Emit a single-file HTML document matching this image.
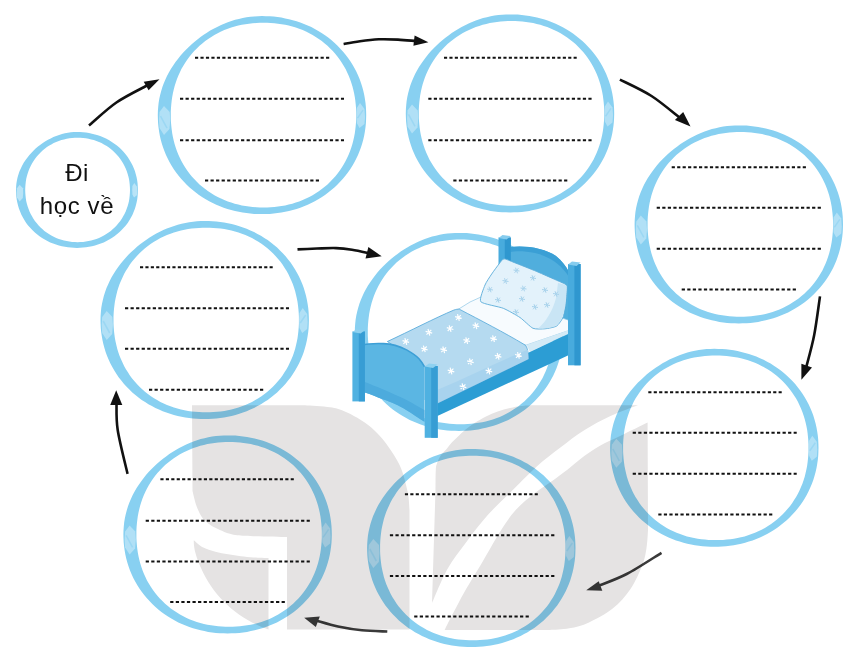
<!DOCTYPE html>
<html><head><meta charset="utf-8"><title>Di hoc ve</title>
<style>html,body{margin:0;padding:0;background:#fff}body{width:867px;height:659px;overflow:hidden;position:relative;font-family:"Liberation Sans",sans-serif}</style>
</head><body>
<svg width="867" height="659" viewBox="0 0 867 659" style="position:absolute;left:0;top:0;isolation:isolate"><rect width="867" height="659" fill="#fff"/>
<defs><g id="ring"><path id="ringb" d="M104.2,0 L104.1,4.1 L103.9,8.2 L103.5,12.2 L102.9,16.3 L102.2,20.3 L101.3,24.3 L100.2,28.3 L99,32.2 L97.6,36 L96,39.8 L94.3,43.5 L92.4,47.1 L90.4,50.6 L88.2,54.1 L85.9,57.4 L83.4,60.6 L80.9,63.7 L78.1,66.7 L75.3,69.6 L72.4,72.4 L69.3,75 L66.2,77.5 L63,79.9 L59.6,82.1 L56.3,84.2 L52.8,86.1 L49.3,88 L45.7,89.6 L42,91.2 L38.3,92.6 L34.6,93.8 L30.8,94.9 L27,95.9 L23.2,96.7 L19.4,97.5 L15.5,98 L11.7,98.5 L7.8,98.8 L3.9,98.9 L0,99 L-3.9,98.9 L-7.8,98.8 L-11.7,98.5 L-15.5,98 L-19.4,97.5 L-23.2,96.7 L-27,95.9 L-30.8,94.9 L-34.6,93.8 L-38.3,92.6 L-42,91.2 L-45.7,89.6 L-49.3,88 L-52.8,86.1 L-56.3,84.2 L-59.6,82.1 L-63,79.9 L-66.2,77.5 L-69.3,75 L-72.4,72.4 L-75.3,69.6 L-78.1,66.7 L-80.9,63.7 L-83.4,60.6 L-85.9,57.4 L-88.2,54.1 L-90.4,50.6 L-92.4,47.1 L-94.3,43.5 L-96,39.8 L-97.6,36 L-99,32.2 L-100.2,28.3 L-101.3,24.3 L-102.2,20.3 L-102.9,16.3 L-103.5,12.2 L-103.9,8.2 L-104.1,4.1 L-104.2,0 L-104.1,-4.1 L-103.8,-8.2 L-103.4,-12.2 L-102.7,-16.3 L-101.8,-20.3 L-100.8,-24.2 L-99.6,-28.1 L-98.2,-31.9 L-96.6,-35.6 L-94.9,-39.3 L-93,-42.9 L-91,-46.3 L-88.8,-49.7 L-86.5,-53 L-84.1,-56.2 L-81.6,-59.3 L-79,-62.3 L-76.3,-65.2 L-73.5,-67.9 L-70.6,-70.6 L-67.7,-73.2 L-64.6,-75.7 L-61.5,-78 L-58.3,-80.3 L-55.1,-82.4 L-51.8,-84.5 L-48.4,-86.4 L-44.9,-88.2 L-41.4,-89.9 L-37.9,-91.4 L-34.2,-92.8 L-30.6,-94.1 L-26.9,-95.3 L-23.1,-96.2 L-19.3,-97.1 L-15.5,-97.8 L-11.6,-98.3 L-7.8,-98.7 L-3.9,-98.9 L-0,-99 L3.9,-98.9 L7.8,-98.8 L11.7,-98.5 L15.5,-98 L19.4,-97.5 L23.2,-96.7 L27,-95.9 L30.8,-94.9 L34.6,-93.8 L38.3,-92.6 L42,-91.2 L45.7,-89.6 L49.3,-88 L52.8,-86.1 L56.3,-84.2 L59.6,-82.1 L63,-79.9 L66.2,-77.5 L69.3,-75 L72.4,-72.4 L75.3,-69.6 L78.1,-66.7 L80.9,-63.7 L83.4,-60.6 L85.9,-57.4 L88.2,-54.1 L90.4,-50.6 L92.4,-47.1 L94.3,-43.5 L96,-39.8 L97.6,-36 L99,-32.2 L100.2,-28.3 L101.3,-24.3 L102.2,-20.3 L102.9,-16.3 L103.5,-12.2 L103.9,-8.2 L104.1,-4.1Z M94.2,-3.6 L94,-7.3 L93.7,-10.9 L93.3,-14.5 L92.8,-18.2 L92.1,-21.8 L91.3,-25.3 L90.4,-28.9 L89.3,-32.4 L88.1,-35.9 L86.7,-39.3 L85.2,-42.6 L83.6,-46 L81.8,-49.2 L79.8,-52.3 L77.8,-55.4 L75.6,-58.4 L73.2,-61.3 L70.8,-64 L68.2,-66.7 L65.5,-69.3 L62.7,-71.7 L59.8,-74 L56.8,-76.2 L53.7,-78.2 L50.6,-80.1 L47.3,-81.9 L44,-83.5 L40.7,-85 L37.2,-86.3 L33.8,-87.5 L30.3,-88.6 L26.7,-89.5 L23.2,-90.3 L19.6,-90.9 L16,-91.4 L12.4,-91.8 L8.7,-92.1 L5.1,-92.3 L1.5,-92.3 L-2.1,-92.3 L-5.7,-92.1 L-9.4,-91.8 L-13,-91.4 L-16.6,-90.9 L-20.2,-90.3 L-23.7,-89.5 L-27.3,-88.6 L-30.8,-87.5 L-34.2,-86.3 L-37.7,-85 L-41,-83.5 L-44.3,-81.9 L-47.6,-80.1 L-50.7,-78.2 L-53.8,-76.2 L-56.8,-74 L-59.7,-71.7 L-62.5,-69.3 L-65.2,-66.7 L-67.8,-64 L-70.2,-61.3 L-72.6,-58.4 L-74.8,-55.4 L-76.8,-52.3 L-78.8,-49.2 L-80.6,-46 L-82.2,-42.6 L-83.7,-39.3 L-85.1,-35.9 L-86.3,-32.4 L-87.4,-28.9 L-88.3,-25.3 L-89.1,-21.8 L-89.8,-18.2 L-90.3,-14.5 L-90.7,-10.9 L-91,-7.3 L-91.2,-3.6 L-91.2,0 L-91.2,3.6 L-91,7.3 L-90.7,10.9 L-90.3,14.5 L-89.8,18.2 L-89.1,21.8 L-88.3,25.3 L-87.4,28.9 L-86.3,32.4 L-85.1,35.9 L-83.7,39.3 L-82.2,42.6 L-80.6,46 L-78.8,49.2 L-76.8,52.3 L-74.8,55.4 L-72.6,58.4 L-70.2,61.3 L-67.8,64 L-65.2,66.7 L-62.5,69.3 L-59.7,71.7 L-56.8,74 L-53.8,76.2 L-50.7,78.2 L-47.6,80.1 L-44.3,81.9 L-41,83.5 L-37.7,85 L-34.2,86.3 L-30.8,87.5 L-27.3,88.6 L-23.7,89.5 L-20.2,90.3 L-16.6,90.9 L-13,91.4 L-9.4,91.8 L-5.7,92.1 L-2.1,92.3 L1.5,92.3 L5.1,92.3 L8.7,92.1 L12.4,91.8 L16,91.4 L19.6,90.9 L23.2,90.3 L26.7,89.5 L30.3,88.6 L33.8,87.5 L37.2,86.3 L40.7,85 L44,83.5 L47.3,81.9 L50.6,80.1 L53.7,78.2 L56.8,76.2 L59.8,74 L62.7,71.7 L65.5,69.3 L68.2,66.7 L70.8,64 L73.2,61.3 L75.6,58.4 L77.8,55.4 L79.8,52.3 L81.8,49.2 L83.6,46 L85.2,42.6 L86.7,39.3 L88.1,35.9 L89.3,32.4 L90.4,28.9 L91.3,25.3 L92.1,21.8 L92.8,18.2 L93.3,14.5 L93.7,10.9 L94,7.3 L94.2,3.6 L94.2,0Z" fill="#88d0f1"/><polygon points="-98,-9 -102.5,-3 -103,5 -102.5,13 -98,20 -92.5,14 -91.8,5 -92.3,-3" fill="#bfe5f7" opacity="0.75"/><polygon points="98,-12 102.5,-6 103,2 102.5,9 97.5,13 94.8,8 94.4,0 94.8,-7" fill="#bfe5f7" opacity="0.75"/><path d="M-101.5,1 L-95,13" stroke="#88d0f1" stroke-width="1.6" opacity="0.5"/><path d="M101,-5 L95.5,3" stroke="#88d0f1" stroke-width="1.6" opacity="0.5"/></g></defs>
<use href="#ringb" transform="translate(459,331.9)"/>
<use href="#ring" transform="translate(262,115.1)"/>
<use href="#ring" transform="translate(510,113.4)"/>
<use href="#ring" transform="translate(738.8,224.4)"/>
<use href="#ring" transform="translate(714.3,447.8)"/>
<use href="#ring" transform="translate(471.3,548)"/>
<use href="#ring" transform="translate(227.6,534.4)"/>
<use href="#ring" transform="translate(204.7,320)"/>
<path d="M137.9,189.9 L137.8,193.1 L137.6,196.3 L137.2,199.5 L136.6,202.6 L135.8,205.7 L134.9,208.8 L133.7,211.8 L132.5,214.7 L131,217.5 L129.4,220.2 L127.7,222.9 L125.8,225.4 L123.7,227.8 L121.6,230.1 L119.3,232.3 L116.9,234.3 L114.4,236.2 L111.8,238 L109.2,239.6 L106.5,241.1 L103.7,242.4 L100.8,243.6 L97.9,244.6 L95,245.5 L92,246.2 L89,246.8 L86,247.3 L83,247.6 L80,247.8 L77,247.9 L73.9,247.8 L70.9,247.6 L67.9,247.3 L64.9,246.8 L61.9,246.2 L58.9,245.5 L56,244.6 L53.1,243.6 L50.2,242.4 L47.4,241.1 L44.7,239.6 L42.1,238 L39.5,236.2 L37,234.3 L34.6,232.3 L32.3,230.1 L30.2,227.8 L28.1,225.4 L26.2,222.9 L24.5,220.2 L22.9,217.5 L21.4,214.7 L20.2,211.8 L19,208.8 L18.1,205.7 L17.3,202.6 L16.7,199.5 L16.3,196.3 L16.1,193.1 L16,190 L16.1,186.8 L16.4,183.6 L16.9,180.4 L17.6,177.3 L18.5,174.3 L19.5,171.3 L20.8,168.4 L22.2,165.6 L23.7,162.8 L25.4,160.2 L27.3,157.7 L29.2,155.3 L31.3,152.9 L33.4,150.7 L35.6,148.6 L38,146.6 L40.4,144.8 L42.8,143 L45.4,141.3 L48,139.8 L50.7,138.4 L53.4,137.1 L56.2,135.9 L59.1,134.9 L62,134 L64.9,133.3 L67.9,132.7 L70.9,132.3 L73.9,132.1 L76.9,132 L80,132.1 L83,132.3 L86,132.6 L89,133.1 L92,133.7 L95,134.4 L97.9,135.3 L100.8,136.3 L103.7,137.5 L106.5,138.8 L109.2,140.3 L111.8,141.9 L114.4,143.7 L116.9,145.6 L119.3,147.6 L121.6,149.8 L123.7,152.1 L125.8,154.5 L127.7,157 L129.4,159.7 L131,162.4 L132.5,165.2 L133.7,168.1 L134.9,171.1 L135.8,174.2 L136.6,177.3 L137.2,180.4 L137.6,183.6 L137.8,186.8Z M129.9,187.2 L129.7,184.5 L129.4,181.7 L129,179 L128.4,176.4 L127.6,173.7 L126.7,171.1 L125.7,168.5 L124.5,166 L123.2,163.6 L121.8,161.2 L120.3,158.9 L118.6,156.8 L116.8,154.7 L114.9,152.7 L112.9,150.8 L110.8,149 L108.6,147.3 L106.3,145.8 L103.9,144.4 L101.5,143.1 L99,142 L96.4,141 L93.8,140.1 L91.2,139.4 L88.5,138.8 L85.8,138.3 L83.1,138 L80.3,137.8 L77.6,137.7 L74.9,137.8 L72.1,138 L69.4,138.3 L66.7,138.8 L64,139.4 L61.4,140.1 L58.8,141 L56.2,142 L53.7,143.1 L51.3,144.4 L48.9,145.8 L46.6,147.3 L44.4,149 L42.3,150.8 L40.3,152.7 L38.4,154.7 L36.6,156.8 L34.9,158.9 L33.4,161.2 L32,163.6 L30.7,166 L29.5,168.5 L28.5,171.1 L27.6,173.7 L26.8,176.4 L26.2,179 L25.8,181.7 L25.5,184.5 L25.3,187.2 L25.2,190 L25.3,192.7 L25.5,195.4 L25.8,198.2 L26.2,200.9 L26.8,203.5 L27.6,206.2 L28.5,208.8 L29.5,211.4 L30.7,213.9 L32,216.3 L33.4,218.7 L34.9,221 L36.6,223.1 L38.4,225.2 L40.3,227.2 L42.3,229.1 L44.4,230.9 L46.6,232.6 L48.9,234.1 L51.3,235.5 L53.7,236.8 L56.2,237.9 L58.8,238.9 L61.4,239.8 L64,240.5 L66.7,241.1 L69.4,241.6 L72.1,241.9 L74.9,242.1 L77.6,242.2 L80.3,242.1 L83.1,241.9 L85.8,241.6 L88.5,241.1 L91.2,240.5 L93.8,239.8 L96.4,238.9 L99,237.9 L101.5,236.8 L103.9,235.5 L106.3,234.1 L108.6,232.6 L110.8,230.9 L112.9,229.1 L114.9,227.2 L116.8,225.2 L118.6,223.1 L120.3,221 L121.8,218.7 L123.2,216.3 L124.5,213.9 L125.7,211.4 L126.7,208.8 L127.6,206.2 L128.4,203.5 L129,200.9 L129.4,198.2 L129.7,195.4 L129.9,192.7 L130,189.9Z" fill="#88d0f1"/><polygon points="19.6,184.7 17,188.2 16.7,192.9 17,197.6 19.6,201.6 22.8,198.1 23.2,192.9 23,188.2" fill="#bfe5f7" opacity="0.9"/><polygon points="134.3,182.9 136.9,186.4 137.2,191.1 136.9,195.2 134,197.6 132.4,194.6 132.2,189.9 132.4,185.9" fill="#bfe5f7" opacity="0.9"/>
<g stroke="#111" stroke-width="2" fill="none"><path d="M195,57.8 H329.3" stroke-dasharray="3.18 2.28"/><path d="M180,98.8 H344" stroke-dasharray="3.23 2.32"/><path d="M180,140.2 H344" stroke-dasharray="3.23 2.32"/><path d="M205,180.5 H319" stroke-dasharray="3.22 2.32"/><path d="M444,57.8 H576.7" stroke-dasharray="3.14 2.26"/><path d="M428.3,98.8 H591.7" stroke-dasharray="3.21 2.31"/><path d="M428.3,140.2 H591.7" stroke-dasharray="3.21 2.31"/><path d="M453.3,180.5 H567.3" stroke-dasharray="3.22 2.32"/><path d="M671.7,167.2 H806" stroke-dasharray="3.18 2.28"/><path d="M656.7,207.8 H821" stroke-dasharray="3.23 2.32"/><path d="M656.7,248.8 H821" stroke-dasharray="3.23 2.32"/><path d="M681.7,289.5 H796" stroke-dasharray="3.23 2.32"/><path d="M648.3,392.2 H781.7" stroke-dasharray="3.16 2.27"/><path d="M632.7,432.8 H796.7" stroke-dasharray="3.23 2.32"/><path d="M632.7,473.8 H796.7" stroke-dasharray="3.23 2.32"/><path d="M658.3,514.5 H772.3" stroke-dasharray="3.22 2.32"/><path d="M404.9,494.3 H537.8" stroke-dasharray="3.15 2.26"/><path d="M389.9,535.2 H554.4" stroke-dasharray="3.23 2.33"/><path d="M389.9,576.1 H554.4" stroke-dasharray="3.23 2.33"/><path d="M414.2,616.6 H528.8" stroke-dasharray="3.24 2.33"/><path d="M160.4,479.2 H293.8" stroke-dasharray="3.16 2.27"/><path d="M145.7,520.7 H309.8" stroke-dasharray="3.23 2.32"/><path d="M145.7,561.5 H309.8" stroke-dasharray="3.23 2.32"/><path d="M170.2,602.1 H285" stroke-dasharray="3.24 2.33"/><path d="M140,267.2 H272.7" stroke-dasharray="3.14 2.26"/><path d="M125,308.2 H289" stroke-dasharray="3.23 2.32"/><path d="M125,348.8 H289" stroke-dasharray="3.23 2.32"/><path d="M149,389.8 H263.3" stroke-dasharray="3.23 2.32"/></g>
<path d="M89,125.5 C93.6,121.7 106.6,109.2 116.4,102.5 C126.2,95.8 142.7,87.9 148,85" stroke="#111" stroke-width="2.6" fill="none" stroke-linecap="butt"/><polygon points="159.5,79.2 143.7,81.8 148.6,90.3" fill="#111"/>
<path d="M343.6,44 C346.3,43.5 354.1,42 360,41.2 C365.9,40.4 372.5,39.6 378.8,39.3 C385.1,39 391.8,39.3 398,39.6 C404.2,39.9 413,40.8 416,41" stroke="#111" stroke-width="2.6" fill="none" stroke-linecap="butt"/><polygon points="428.4,42.3 414.6,35.4 413.4,45.8" fill="#111"/>
<path d="M619.9,79.6 C625.2,82.3 641.5,89.6 651.5,96 C661.5,102.4 675.2,114.3 680,118" stroke="#111" stroke-width="2.6" fill="none" stroke-linecap="butt"/><polygon points="690.5,126.6 674.9,120 683.2,112" fill="#111"/>
<path d="M820,296.4 C819,302.8 816.5,323.1 814.2,335 C811.9,346.9 807.4,362.5 806,368" stroke="#111" stroke-width="2.6" fill="none" stroke-linecap="butt"/><polygon points="801.4,379.7 801.4,363.8 812,367.6" fill="#111"/>
<path d="M661.5,552.8 C655.7,556.3 637.3,568.5 626.7,574 C616.1,579.5 602.8,584 598,586" stroke="#3a3a3a" stroke-width="2.6" fill="none" stroke-linecap="butt"/><polygon points="586.2,590.2 598.7,581.3 602.3,590.7" fill="#3a3a3a"/>
<path d="M387.3,631.5 C383.1,631.3 370.2,631.1 362,630.3 C353.8,629.5 345.7,628.1 338,626.5 C330.3,624.9 319.7,621.5 316,620.5" stroke="#3a3a3a" stroke-width="2.6" fill="none" stroke-linecap="butt"/><polygon points="304.2,617.7 319.8,616.5 315.8,626.9" fill="#3a3a3a"/>
<path d="M127.6,473.9 C125.9,466.6 119.5,441.8 117.7,430 C115.9,418.2 116.7,407.5 116.5,403" stroke="#111" stroke-width="2.6" fill="none" stroke-linecap="butt"/><polygon points="116.2,390.3 110.2,405 122.3,405" fill="#111"/>
<path d="M297.5,249.4 C300.8,249.2 310.6,248.7 317,248.5 C323.4,248.3 330.3,247.9 336.1,248.1 C341.9,248.3 346.5,248.9 352,249.8 C357.5,250.7 366.2,252.7 369,253.3" stroke="#111" stroke-width="2.6" fill="none" stroke-linecap="butt"/><polygon points="381.7,256.3 368.4,247.1 365.5,258.6" fill="#111"/>
<g><path d="M510,300 L510,247 C525,245 545,248 556,256 C562,261 566,266 569,272 L569,330 Z" fill="#50aedd"/><path d="M510,247 C525,245 545,248 556,256 C562,261 566,266 569,272 L569,277 C563,267 552,257 535,253 C525,251 516,251 510,252 Z" fill="#3a9fd5"/><rect x="498.5" y="237.5" width="12.3" height="70" fill="#48abdd"/><rect x="504.8" y="237.5" width="6" height="70" fill="#2f97cf"/><polygon points="498.5,238 502.5,235 510.8,236 506.5,239.5" fill="#86ccee"/><polygon points="425,330 470,302 492,292 573.3,322 573.3,329 526.6,345" fill="#f7fbfe" stroke="#8cc6e5" stroke-width="0.7"/><polygon points="526.6,345 573.3,328.5 573.3,331.5 529.8,351.8" fill="#d3eaf6"/><polygon points="430,400 529.8,352 573.3,331.5 573.3,353 437.4,416 430,419" fill="#2c9dd4"/><path d="M480.8,301.7 C479,299.4 483.9,287.8 485,285 C486.1,282.2 490.3,276.1 491.7,274 C493.1,271.9 497.8,265.5 499,264 C500.2,262.5 502.5,258.9 504,258.8 C505.5,258.7 510.9,261.2 514.2,262.5 C517.5,263.8 532.3,269.6 536.7,271.5 C541.1,273.4 555.3,279.6 558.3,281 C561.3,282.4 565.9,283.9 566.7,285.8 C567.5,287.7 566.3,296.9 566,300 C565.7,303.1 564.2,314.1 563.3,316.7 C562.4,319.3 558.5,324.8 556.7,326 C554.9,327.2 547.4,328.6 545,328.8 C542.6,329 535.5,329.4 533,328.3 C530.5,327.2 523,319.5 520,317.5 C517,315.5 507.2,309.9 503.3,308.3 C499.4,306.7 482.6,304 480.8,301.7Z" fill="#e3f2fb" stroke="#5badd9" stroke-width="0.9"/><path d="M558,283 C563,284 566,285 566.7,286 L566,300 C565,310 563,318 558,324 C553,328 545,329 538,328.5 C546,322 553,310 556,298 Z" fill="#c9e5f5"/><path d="M515.5,267.7 L517.5,273.3 M518.4,268.2 L514.6,272.8 M519.5,271 L513.5,270 M504.5,278.2 L506.5,283.8 M507.4,278.7 L503.6,283.3 M508.5,281.5 L502.5,280.5 M489,286.7 L491,292.3 M491.9,287.2 L488.1,291.8 M493,290 L487,289 M522.5,285.7 L524.5,291.3 M525.4,286.2 L521.6,290.8 M526.5,289 L520.5,288 M532,275.2 L534,280.8 M534.9,275.7 L531.1,280.3 M536,278.5 L530,277.5 M544,287.2 L546,292.8 M546.9,287.7 L543.1,292.3 M548,290.5 L542,289.5 M521,296.2 L523,301.8 M523.9,296.7 L520.1,301.3 M525,299.5 L519,298.5 M497,297.2 L499,302.8 M499.9,297.7 L496.1,302.3 M501,300.5 L495,299.5 M534,304.2 L536,309.8 M536.9,304.7 L533.1,309.3 M538,307.5 L532,306.5 M515,309.2 L517,314.8 M517.9,309.7 L514.1,314.3 M519,312.5 L513,311.5 M546,302.2 L548,307.8 M548.9,302.7 L545.1,307.3 M550,305.5 L544,304.5 M555,291.2 L557,296.8 M557.9,291.7 L554.1,296.3 M559,294.5 L553,293.5 " stroke="#a9d3ec" stroke-width="1" fill="none"/><path d="M387.4,341.5 C410,331 435,318 453.8,310.1 C456,309.3 458,309 459.3,309.2 C480,320 505,333 523.9,344.3 C527,346 528,349 528.5,359 L437,403.5 L425,400 L425,367 Z" fill="#b5daf0" stroke="#4fa6d8" stroke-width="0.8"/><path d="M437,390 C470,376 500,361 528,349.5 L528.5,359 L437,403.5 Z" fill="#a8d3ee"/><path d="M402.5,340.6 L409.1,342.4 M404.9,338.2 L406.7,344.8 M408.2,339.1 L403.4,343.9 M425.6,331.4 L432.2,333.2 M428,329 L429.8,335.6 M431.3,329.9 L426.5,334.7 M446.8,327.7 L453.4,329.5 M449.2,325.3 L451,331.9 M452.5,326.2 L447.7,331 M455.1,316.6 L461.7,318.4 M457.5,314.2 L459.3,320.8 M460.8,315.1 L456,319.9 M472.6,324.9 L479.2,326.7 M475,322.5 L476.8,329.1 M478.3,323.4 L473.5,328.2 M421,348 L427.6,349.8 M423.4,345.6 L425.2,352.2 M426.7,346.5 L421.9,351.3 M440.4,348.9 L447,350.7 M442.8,346.5 L444.6,353.1 M446.1,347.4 L441.3,352.2 M463.4,339.7 L470,341.5 M465.8,337.3 L467.6,343.9 M469.1,338.2 L464.3,343 M490.2,337.8 L496.8,339.6 M492.6,335.4 L494.4,342 M495.9,336.3 L491.1,341.1 M467.1,360.9 L473.7,362.7 M469.5,358.5 L471.3,365.1 M472.8,359.4 L468,364.2 M447.7,370.1 L454.3,371.9 M450.1,367.7 L451.9,374.3 M453.4,368.6 L448.6,373.4 M494.8,355.4 L501.4,357.2 M497.2,353 L499,359.6 M500.5,353.9 L495.7,358.7 M485.6,370.1 L492.2,371.9 M488,367.7 L489.8,374.3 M491.3,368.6 L486.5,373.4 M515.1,354.5 L521.7,356.3 M517.5,352.1 L519.3,358.7 M520.8,353 L516,357.8 M459.7,385.8 L466.3,387.6 M462.1,383.4 L463.9,390 M465.4,384.3 L460.6,389.1 " stroke="#ffffff" stroke-width="1.2" fill="none"/><rect x="568" y="264" width="12.6" height="101.3" fill="#48abdd"/><rect x="574.4" y="264" width="6.2" height="101.3" fill="#2f97cf"/><polygon points="568,264.5 572,261.5 580.6,262.5 576.5,266" fill="#86ccee"/><path d="M360.4,345.4 C368,343.5 376,343.3 383.5,343.6 C393,344 400,346.5 406.6,349.9 C412,353 416,355.5 419,358.7 C421.5,361.5 423,364 424.4,366.7 L424.4,421.8 C418,418 412,413.5 406.6,410.3 C398,405 392,402.5 383.5,399.6 C377,397 371,394.5 364.9,392.5 Z" fill="#5bb6e3"/><path d="M364.9,382 C375,386 390,392 406.6,400 C414,404 419,407 424.4,410 L424.4,421.8 C418,418 412,413.5 406.6,410.3 C398,405 392,402.5 383.5,399.6 C377,397 371,394.5 364.9,392.5 Z" fill="#4dabdd"/><path d="M360.4,345.4 C368,343.5 376,343.3 383.5,343.6 C393,344 400,346.5 406.6,349.9 C412,353 416,355.5 419,358.7 C421.5,361.5 423,364 424.4,366.7" fill="none" stroke="#3d9fd6" stroke-width="1.6"/><rect x="352.4" y="331.5" width="12.5" height="69.9" fill="#4fb1e1"/><rect x="358.8" y="331.5" width="6.1" height="69.9" fill="#379dd4"/><polygon points="352.4,332 356.5,329.3 364.9,330.3 360.5,333.5" fill="#8fd1f0"/><rect x="424.7" y="366" width="13" height="71.8" fill="#4fb1e1"/><rect x="431.2" y="366" width="6.5" height="71.8" fill="#379dd4"/><polygon points="424.7,366.5 429,363.5 437.7,364.5 433,368" fill="#8fd1f0"/></g>
<g style="mix-blend-mode:multiply" fill="#e5e3e3"><path d="M192,405.3 L305,405.3  C309.2,405.6 323.6,406.4 330,407.3 C336.4,408.2 339.1,409.1 343.7,410.9 C348.2,412.6 352.8,415.1 357.3,417.8 C361.9,420.5 366.9,423.9 371,427.3 C375.1,430.7 378.7,434.7 381.9,438.3 C385.1,441.9 387.6,445.6 390.1,449.2 C392.6,452.8 395.1,456.9 396.9,460.1 C398.7,463.3 399.9,465.6 401,468.3 C402.1,471 402.9,473.4 403.8,476.5 C404.7,479.6 405.7,483.6 406.5,487 C407.3,490.4 408,493.2 408.5,497 C409,500.8 409.3,507.8 409.5,510 L409.5,629.5 L287,629.5 L287,537  C279.5,536.7 247.8,536.5 237.2,535.2 C226.6,533.9 220.5,529.9 216.3,528.2 C212.1,526.5 211.1,525.6 209,524 C206.9,522.4 204.2,520.5 202.3,517.8 C200.4,515.1 198,510 196.5,506 C195,502 193.1,493.2 192.5,491 Z"/><path d="M193.8,540.3 C195.3,541.5 199.1,545.4 202.7,547.3 C206.3,549.2 211.2,550.5 215.4,551.7 C219.6,552.9 223.9,553.5 228.1,554.3 C232.3,555 236.6,555.7 240.8,556.2 C245,556.7 248.9,557.1 253.5,557.4 C258.1,557.7 266,557.9 268.5,558 L268.5,629.5 C240,620 214,598 201,568 C196,557 193.5,548 193.8,540.3 Z"/><path d="M432,603 L435.5,490  C435.6,486.7 435.5,474.7 435.8,470 C436.1,465.3 436.6,464.5 437.5,462 C438.4,459.5 439.5,457.2 441,455 C442.5,452.8 444.8,451.1 446.6,449 C448.4,446.9 450.1,444.4 452,442.3 C453.9,440.2 455.8,438.6 458,436.5 C460.2,434.4 462.2,432.2 465,430 C467.8,427.8 471.1,425.2 474.6,423 C478.1,420.8 482.1,418.4 486,416.5 C489.9,414.6 493.7,412.9 497.7,411.5 C501.7,410.1 506.1,408.9 510,408 C513.9,407.1 517.3,406.5 521,406 C524.7,405.5 530.2,405.3 532,405.2 L638,405.2  C633.4,406.8 619.4,411.8 610.5,416 C601.6,420.2 593,424.8 584.6,430 C576.2,435.2 568.5,441.3 560.4,447.5 C552.3,453.7 544.6,459.4 536.2,467 C527.8,474.6 518,484.9 510,492.8 C502,500.7 495.5,506.4 488.2,514.6 C480.9,522.8 473.2,532.8 466.4,541.9 C459.6,551 453,559 447.3,569.2 C441.6,579.4 434.6,597.4 432,603 Z"/><path d="M444.6,630 C445.5,628.2 447.8,623.3 450,619 C452.2,614.7 455.5,608.7 458,604 C460.5,599.3 460.8,598.2 465,591 C469.2,583.8 477,571.2 483,561 C489,550.8 495.8,538.5 501.2,530 C506.6,521.5 510.1,516.2 515.7,510 C521.3,503.8 528.5,498.2 535,493 C541.5,487.8 549,483.2 555,478.9 C561,474.5 565.8,470.8 570.7,466.9 C575.6,463 579.7,459.3 584.6,455.8 C589.5,452.3 594.1,449 600,445.7 C605.9,442.4 612.1,439.9 620,436 C627.9,432.1 643,424.8 647.6,422.5 L648,530  C647.8,533 647.5,542.1 646.5,548 C645.5,553.9 645,558.4 642.3,565.2 C639.6,572 635.4,581.7 630.5,588.9 C625.6,596.1 619.6,603 612.7,608.6 C605.8,614.2 596.2,619.1 589,622.4 C581.8,625.7 575.8,627 569.3,628.3 C562.8,629.6 553.2,629.7 550,630 L444.6,630 Z"/></g>
<text x="77" y="180.5" text-anchor="middle" font-family="Liberation Sans, sans-serif" font-size="24" letter-spacing="0.3" fill="#111">Đi</text>
<text x="77" y="213.7" text-anchor="middle" font-family="Liberation Sans, sans-serif" font-size="24" letter-spacing="0.6" fill="#111">học về</text></svg>
</body></html>
